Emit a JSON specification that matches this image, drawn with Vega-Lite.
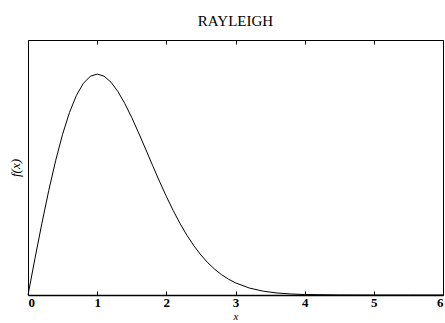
{
  "$schema": "https://vega.github.io/schema/vega-lite/v6.json",
  "autosize": {"type": "none"},
  "padding": {"left": 28, "top": 40, "right": 2, "bottom": 28},
  "width": 415,
  "height": 255,
  "background": "white",
  "title": {"text": "RAYLEIGH", "font": "Liberation Serif", "fontSize": 15, "fontWeight": "normal", "color": "black", "offset": 11, "anchor": "middle"},
  "config": {
    "view": {"stroke": "black", "strokeWidth": 1}
  },
  "data": {"values": [
    {"x": 0, "f": 0},
    {"x": 0.1, "f": 0.0995},
    {"x": 0.2, "f": 0.196},
    {"x": 0.3, "f": 0.2868},
    {"x": 0.4, "f": 0.3692},
    {"x": 0.5, "f": 0.4412},
    {"x": 0.6, "f": 0.5012},
    {"x": 0.7, "f": 0.5479},
    {"x": 0.8, "f": 0.5809},
    {"x": 0.9, "f": 0.6003},
    {"x": 1.0, "f": 0.6065},
    {"x": 1.1, "f": 0.6007},
    {"x": 1.2, "f": 0.5841},
    {"x": 1.3, "f": 0.5585},
    {"x": 1.4, "f": 0.5254},
    {"x": 1.5, "f": 0.487},
    {"x": 1.6, "f": 0.4448},
    {"x": 1.7, "f": 0.4007},
    {"x": 1.8, "f": 0.3562},
    {"x": 1.9, "f": 0.3125},
    {"x": 2.0, "f": 0.2707},
    {"x": 2.1, "f": 0.2316},
    {"x": 2.2, "f": 0.1956},
    {"x": 2.3, "f": 0.1633},
    {"x": 2.4, "f": 0.1347},
    {"x": 2.5, "f": 0.1098},
    {"x": 2.6, "f": 0.0885},
    {"x": 2.7, "f": 0.0705},
    {"x": 2.8, "f": 0.0555},
    {"x": 2.9, "f": 0.0433},
    {"x": 3.0, "f": 0.0333},
    {"x": 3.2, "f": 0.0191},
    {"x": 3.4, "f": 0.0105},
    {"x": 3.6, "f": 0.0055},
    {"x": 3.8, "f": 0.0028},
    {"x": 4.0, "f": 0.0013},
    {"x": 4.5, "f": 0.0002},
    {"x": 5.0, "f": 0},
    {"x": 5.5, "f": 0},
    {"x": 6.0, "f": 0}
  ]},
  "layer": [
    {
      "mark": {"type": "line", "color": "black", "strokeWidth": 1},
      "encoding": {
        "x": {"field": "x", "type": "quantitative", "scale": {"domain": [0, 6], "nice": false},
          "axis": {"orient": "bottom", "values": [0, 1, 2, 3, 4, 5, 6], "format": "d", "labelFont": "Liberation Serif", "labelFontSize": 13, "labelFontWeight": "bold", "labelColor": "black", "labelPadding": 5, "tickSize": -4, "tickColor": "black", "domainColor": "black", "domainWidth": 1.5, "grid": false, "title": "x", "titleFont": "Liberation Serif", "titleColor": "black", "titleFontStyle": "italic", "titleFontWeight": "normal", "titleFontSize": 11, "titlePadding": 1}},
        "y": {"field": "f", "type": "quantitative", "scale": {"domain": [0, 0.7], "nice": false},
          "axis": {"labels": false, "ticks": false, "domain": false, "grid": false, "title": "f(x)", "titleFont": "Liberation Serif", "titleColor": "black", "titleFontStyle": "italic", "titleFontWeight": "normal", "titleFontSize": 13, "titlePadding": 6}}
      }
    },
    {
      "mark": {"type": "line", "opacity": 0},
      "encoding": {
        "x": {"field": "x", "type": "quantitative",
          "axis": {"orient": "top", "values": [0, 1, 2, 3, 4, 5, 6], "labels": false, "tickSize": -4, "tickColor": "black", "domain": false, "grid": false, "title": null}},
        "y": {"field": "f", "type": "quantitative"}
      }
    }
  ],
  "resolve": {"axis": {"x": "independent"}}
}
